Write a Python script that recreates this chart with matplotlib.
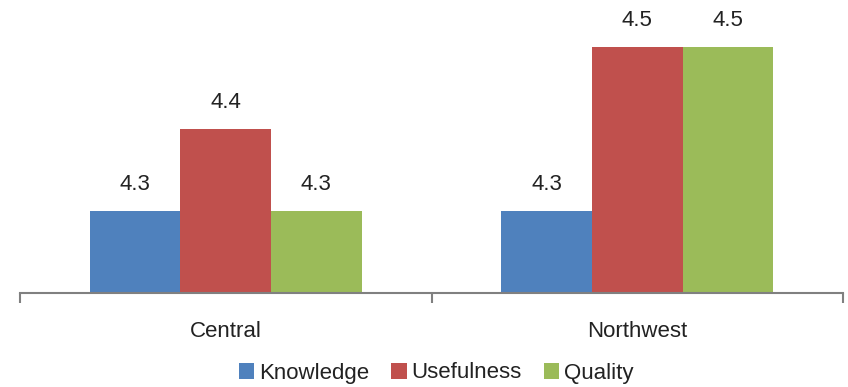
import matplotlib
matplotlib.use("Agg")
import matplotlib.pyplot as plt
import numpy as np
from matplotlib.patches import Patch

categories = ["Central", "Northwest"]
series_names = ["Knowledge", "Usefulness", "Quality"]
knowledge = [4.3, 4.3]
usefulness = [4.4, 4.5]
quality = [4.3, 4.5]
colors = ["#4F81BD", "#C0504D", "#9BBB59"]

plt.rcParams['font.family'] = ['Liberation Sans Narrow', 'Liberation Sans', 'DejaVu Sans']

fig = plt.figure(figsize=(8.48, 3.87), dpi=100)
ax = fig.add_axes([20/848, 1-293/387, (843-20)/848, (293-6)/387])

x = np.arange(len(categories))
w = 0.22
vals = [knowledge, usefulness, quality]
for i, (name, v, c) in enumerate(zip(series_names, vals, colors)):
    bars = ax.bar(x + (i-1)*w, v, w, bottom=0, color=c, label=name, zorder=2)
    for xi, vi in zip(x + (i-1)*w, v):
        ax.text(xi, vi + 0.02, f"{vi:.1f}", ha='center', va='bottom', fontsize=16, color='#222222')

ax.set_ylim(4.2, 4.55)
ax.set_xlim(-0.5, 1.5)
for s in ['top', 'right', 'left']:
    ax.spines[s].set_visible(False)
ax.spines['bottom'].set_color('#808080')
ax.spines['bottom'].set_linewidth(1.5)
ax.set_yticks([])
ax.set_xticks([-0.5, 0.5, 1.5], minor=False)
ax.set_xticklabels([])
ax.tick_params(axis='x', which='major', length=7, width=1.5, color='#808080', direction='out')
ax.set_xticks(x, minor=True)
ax.set_xticklabels(categories, minor=True, fontsize=16, color='#222222')
ax.tick_params(axis='x', which='minor', length=0, pad=20)

handles = [Patch(facecolor=c, label=n) for n, c in zip(series_names, colors)]
fig.legend(handles=handles, loc='center', bbox_to_anchor=(436/848, 1-373/387), ncol=3,
           frameon=False, fontsize=16, handlelength=0.7, handleheight=0.7,
           handletextpad=0.2, columnspacing=1.0, labelcolor='#222222')

fig.savefig("out.png", dpi=100)
